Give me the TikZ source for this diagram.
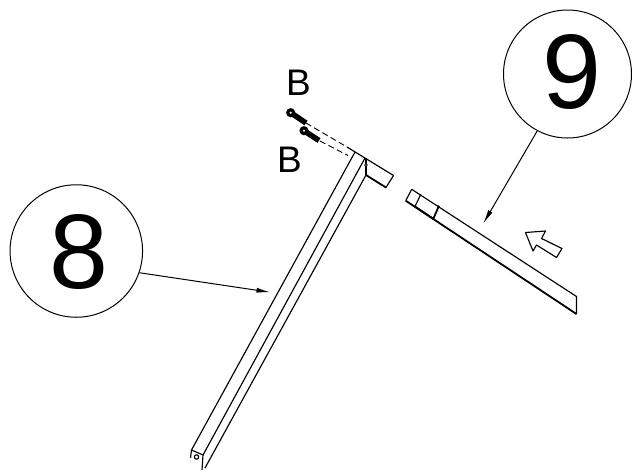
\documentclass[tikz,border=0pt]{standalone}
\usepackage{fontspec}
\setmainfont{Liberation Sans}
\usetikzlibrary{arrows.meta}
\tikzset{
  part/.style={draw=black,line width=1.15pt,line join=round},
  heavy/.style={draw=black,line width=1.8pt},
  callout/.style={circle,draw=black,line width=1pt,inner sep=0pt,minimum size=#1},
  leader/.style={draw=black,line width=1pt,-{Latex[length=14pt,width=5pt]}},
  hidden/.style={draw=black,line width=0.9pt,dash pattern=on 6pt off 3.5pt},
  bigdigit/.style={font=\fontsize{#1}{#1}\selectfont,inner sep=0pt},
  letter/.style={font=\fontsize{37}{37}\selectfont,inner sep=0pt}
}
\begin{document}
\begin{tikzpicture}[x=1pt,y=-1pt]
\useasboundingbox (0,0) rectangle (632,475);
% callouts
\node[callout=132.5pt] (c8) at (76.3,251) {};
\node[bigdigit=106] (d8) at (78.7,251.7) {8};
\node[callout=128pt] (c9) at (567.5,74) {};
\node[bigdigit=106] (d9) at (571.7,72.5) {9};
\coordinate (a8) at (270.5,292.3);
\coordinate (a9) at (483.3,223.5);
\draw[leader] (c8.-19) -- (a8);
\draw[leader] (c9.-118.6) -- (a9);
% letters
\node[letter] (b1) at (298.5,82.5) {B};
\node[letter] (b2) at (289.5,159.3) {B};
% leg
\draw[part] (355,152) -- (191.5,450);
\draw[part] (365,158) -- (203,455);
\draw[part] (366,175) -- (205,468);
\draw[part] (347,147) -- (393.5,175.5) -- (386,187.5);
\draw[part] (366,158) -- (366,175);
\draw[heavy] (366,175) -- (386,187.5);
\draw[part] (191.5,450) -- (203,455) -- (202,470);
\draw[part] (191.5,450) -- (190.5,458);
\draw[part] (196.5,457) circle (2.2pt);
\draw[draw=black,fill=white,line width=.6pt] (366,165) circle (1.4pt);
% screws
\foreach \hx/\hy/\tx/\ty in {290.7/112.7/306/123, 304/130.7/319/140.5}{
  \draw[black,line width=5.5pt] (\hx,\hy) -- (\tx,\ty);
  \fill[black] (\hx,\hy) circle (4.6pt);
  \fill[white] (\hx,\hy) circle (1.2pt);
}
\coordinate (s1) at (306,123);
\coordinate (s2) at (320,141);
\coordinate (e1) at (347,147);
\coordinate (e2) at (348,155.5);
\draw[hidden] (s1) -- (e1);
\draw[hidden] (s2) -- (e2);
% rail
\draw[part] (405.7,200.7) -- (411.7,189.3) -- (576.5,296.5) -- (576.5,314);
\draw[heavy] (405.7,200.7) -- (576.5,314);
\draw[part] (420.7,194.5) -- (415,206.5);
\draw[heavy] (439,205.7) -- (433.3,218.8);
\draw[heavy] (415,206.5) -- (433.3,218.8);
% direction arrow
\draw[part] (525.5,232.5) -- (545.5,231) -- (541.5,238.5) -- (562,248.5) -- (556.5,257.5) -- (536.5,245) -- (533,251) -- cycle;
\end{tikzpicture}
\end{document}
